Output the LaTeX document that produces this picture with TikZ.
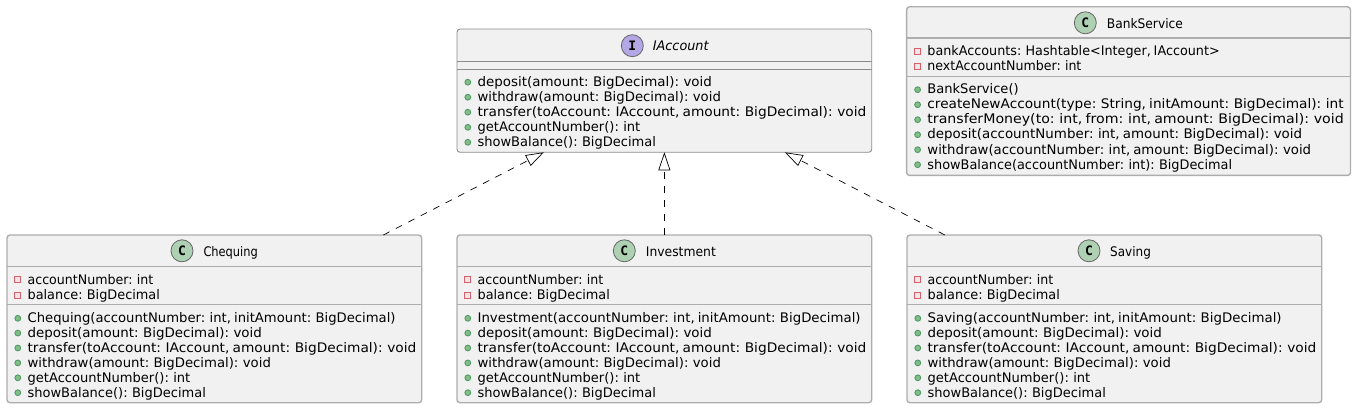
\documentclass[tikz,border=0pt]{standalone}
\usepackage{graphicx}
\usepackage{fontspec}
\setmainfont[WordSpace=0.72]{DejaVu Sans}
\newfontfamily\letterfont{DejaVu Sans Mono}
\usetikzlibrary{arrows.meta,calc}
\definecolor{boxfill}{HTML}{F1F1F1}
\definecolor{boxline}{HTML}{ADADAD}
\definecolor{ifaceline}{HTML}{8C8C8C}
\definecolor{classspot}{HTML}{ADD1B2}
\definecolor{ifacespot}{HTML}{B4A7E5}
\definecolor{pubfill}{HTML}{84BE84}
\definecolor{pubdraw}{HTML}{4F9A6A}
\definecolor{privdraw}{HTML}{D9606A}
\definecolor{privfill}{HTML}{F6E4E6}
\newcounter{rowno}
\tikzset{x=1pt,y=-1pt,
  umlbox/.style={draw=boxline,line width=1.4pt,fill=boxfill,rounded corners=3pt,inner sep=0pt,outer sep=0pt,anchor=north west},
  divider/.style={draw=boxline,line width=1.5pt},
  ifacedivider/.style={draw=ifaceline,line width=0.9pt},
  spot/.style={circle,draw=black!60,line width=0.8pt,minimum size=22pt,inner sep=0pt,font=\letterfont\bfseries\fontsize{13}{13}\selectfont},
  title/.style={anchor=base west,inner sep=0pt,font=\fontsize{13.2}{15}\selectfont},
  row/.style={anchor=base west,inner sep=0pt,font=\fontsize{13.2}{15}\selectfont},
  pubmark/.style={circle,draw=pubdraw,fill=pubfill,line width=0.9pt,minimum size=5.8pt,inner sep=0pt},
  privmark/.style={rectangle,draw=privdraw,fill=privfill,line width=1pt,minimum size=6pt,inner sep=0pt},
  realize/.style={draw=black,line width=0.7pt,dash pattern=on 7pt off 7pt,
    -{Triangle[open,length=18pt,width=12pt,fill=white]}}
}
\newcommand{\rowbase}[5]{% style, box left, baseline, text, text width
  \stepcounter{rowno}
  \node[#1] (mark\therowno) at (#2+10.8,#3-4.3) {};
  \node[row] (row\therowno) at (#2+20.4,#3) {\resizebox{#5pt}{\height}{#4}};
}
\newcommand{\classbox}[6]{% name, left, top, width, height, extra style
  \node[umlbox,minimum width=#4pt,minimum height=#5pt,#6] (#1) at (#2,#3) {};
}
\newcommand{\sectionline}[3]{% box, y, line style
  \draw[#3] (#1.west |- 0,#2) -- (#1.east |- 0,#2);
}
\begin{document}
\begin{tikzpicture}
\useasboundingbox (0,0) rectangle (1357,409);
% boxes
\classbox{iaccount}{457}{29}{414.7}{123.3}{draw=ifaceline,line width=0.9pt}
\classbox{chequing}{7}{235}{414.7}{167.7}{}
\classbox{investment}{457}{235}{414.7}{167.7}{}
\classbox{saving}{907}{235}{414.7}{167.7}{}
\classbox{bank}{906.6}{6.8}{443.9}{168.6}{}
\sectionline{iaccount}{61.7}{ifacedivider}
\sectionline{iaccount}{69.3}{ifacedivider}
\sectionline{chequing}{266.7}{divider}
\sectionline{chequing}{304.4}{divider}
\sectionline{investment}{266.7}{divider}
\sectionline{investment}{304.4}{divider}
\sectionline{saving}{266.7}{divider}
\sectionline{saving}{304.4}{divider}
\sectionline{bank}{38}{divider}
\sectionline{bank}{76.7}{divider}
% titles
\node[spot,fill=ifacespot] (spotiaccount) at (632.3,45.7) {I};
\node[title,font=\itshape\fontsize{13.2}{15}\selectfont] (titleiaccount) at (652.7,50.7) {\resizebox{55.7pt}{\height}{IAccount}};
\node[spot,fill=classspot] (spotchequing) at (182,250.8) {C};
\node[title] (titlechequing) at (203.3,256.7) {\resizebox{54.4pt}{\height}{Chequing}};
\node[spot,fill=classspot] (spotinvestment) at (624.3,250.8) {C};
\node[title] (titleinvestment) at (645.7,256.7) {\resizebox{70pt}{\height}{Investment}};
\node[spot,fill=classspot] (spotsaving) at (1089,250.8) {C};
\node[title] (titlesaving) at (1110,256.7) {\resizebox{40.7pt}{\height}{Saving}};
\node[spot,fill=classspot] (spotbank) at (1085.3,22.8) {C};
\node[title] (titlebank) at (1106.7,28.5) {\resizebox{76pt}{\height}{BankService}};
% IAccount
\rowbase{pubmark}{457}{86.5}{deposit(amount: BigDecimal): void}{234.3}
\rowbase{pubmark}{457}{101.5}{withdraw(amount: BigDecimal): void}{243.3}
\rowbase{pubmark}{457}{116.5}{transfer(toAccount: IAccount, amount: BigDecimal): void}{388.7}
\rowbase{pubmark}{457}{131.6}{getAccountNumber(): int}{162.7}
\rowbase{pubmark}{457}{146.6}{showBalance(): BigDecimal}{178.3}
% Chequing
\rowbase{privmark}{7}{284}{accountNumber: int}{125.6}
\rowbase{privmark}{7}{299.3}{balance: BigDecimal}{132.3}
\rowbase{pubmark}{7}{322.6}{Chequing(accountNumber: int, initAmount: BigDecimal)}{368}
\rowbase{pubmark}{7}{337.4}{deposit(amount: BigDecimal): void}{234.3}
\rowbase{pubmark}{7}{352.3}{transfer(toAccount: IAccount, amount: BigDecimal): void}{388.7}
\rowbase{pubmark}{7}{367.2}{withdraw(amount: BigDecimal): void}{243.3}
\rowbase{pubmark}{7}{382.1}{getAccountNumber(): int}{162.7}
\rowbase{pubmark}{7}{397}{showBalance(): BigDecimal}{178.3}
% Investment
\rowbase{privmark}{457}{284}{accountNumber: int}{125.6}
\rowbase{privmark}{457}{299.3}{balance: BigDecimal}{132.3}
\rowbase{pubmark}{457}{322.6}{Investment(accountNumber: int, initAmount: BigDecimal)}{383}
\rowbase{pubmark}{457}{337.4}{deposit(amount: BigDecimal): void}{234.3}
\rowbase{pubmark}{457}{352.3}{transfer(toAccount: IAccount, amount: BigDecimal): void}{388.7}
\rowbase{pubmark}{457}{367.2}{withdraw(amount: BigDecimal): void}{243.3}
\rowbase{pubmark}{457}{382.1}{getAccountNumber(): int}{162.7}
\rowbase{pubmark}{457}{397}{showBalance(): BigDecimal}{178.3}
% Saving
\rowbase{privmark}{907}{284}{accountNumber: int}{125.6}
\rowbase{privmark}{907}{299.3}{balance: BigDecimal}{132.3}
\rowbase{pubmark}{907}{322.6}{Saving(accountNumber: int, initAmount: BigDecimal)}{354}
\rowbase{pubmark}{907}{337.4}{deposit(amount: BigDecimal): void}{234.3}
\rowbase{pubmark}{907}{352.3}{transfer(toAccount: IAccount, amount: BigDecimal): void}{388.7}
\rowbase{pubmark}{907}{367.2}{withdraw(amount: BigDecimal): void}{243.3}
\rowbase{pubmark}{907}{382.1}{getAccountNumber(): int}{162.7}
\rowbase{pubmark}{907}{397}{showBalance(): BigDecimal}{178.3}
% BankService
\rowbase{privmark}{906.8}{55.7}{bankAccounts: Hashtable<Integer, IAccount>}{292.3}
\rowbase{privmark}{906.8}{70.7}{nextAccountNumber: int}{154}
\rowbase{pubmark}{906.8}{94}{BankService()}{91.3}
\rowbase{pubmark}{906.8}{109}{createNewAccount(type: String, initAmount: BigDecimal): int}{416.3}
\rowbase{pubmark}{906.8}{124}{transferMoney(to: int, from: int, amount: BigDecimal): void}{416.3}
\rowbase{pubmark}{906.8}{139}{deposit(accountNumber: int, amount: BigDecimal): void}{374.7}
\rowbase{pubmark}{906.8}{154}{withdraw(accountNumber: int, amount: BigDecimal): void}{383.7}
\rowbase{pubmark}{906.8}{169}{showBalance(accountNumber: int): BigDecimal}{304.7}
% connectors
\draw[realize] ([xshift=169pt]chequing.north) -- ([xshift=-120.5pt]iaccount.south);
\draw[realize] (investment.north) -- (iaccount.south);
\draw[realize] ([xshift=-169.5pt]saving.north) -- ([xshift=120.5pt]iaccount.south);
\end{tikzpicture}
\end{document}
